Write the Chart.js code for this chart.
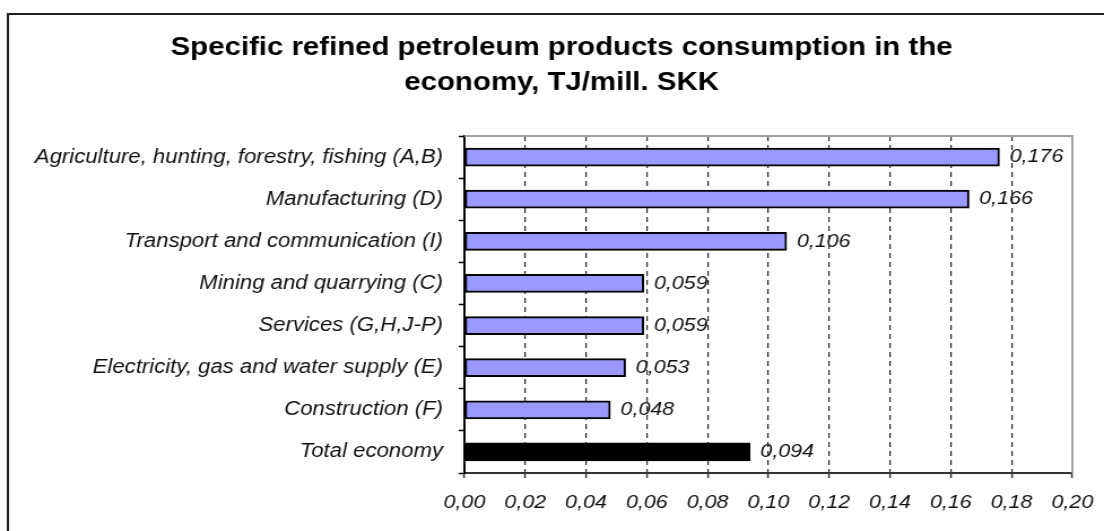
<!DOCTYPE html>
<html>
<head>
<meta charset="utf-8">
<title>Specific refined petroleum products consumption</title>
<script src="https://cdn.jsdelivr.net/npm/chart.js@4/dist/chart.umd.min.js"></script>
<style>
  html, body { margin: 0; padding: 0; background: #fff; overflow: hidden; }
  /* the chart is drawn a little narrow and widened, like the old spreadsheet export */
  #wrap { width: 977px; height: 531px; transform: scaleX(1.13); transform-origin: 0 0; }
</style>
</head>
<body>
<div id="wrap"><canvas id="chart" width="977" height="531"></canvas></div>
<script>
const sectors = [
    "Agriculture, hunting, forestry, fishing (A,B)",
    "Manufacturing (D)",
    "Transport and communication (I)",
    "Mining and quarrying (C)",
    "Services (G,H,J-P)",
    "Electricity, gas and water supply (E)",
    "Construction (F)",
    "Total economy",
];
const consumption = [0.176, 0.166, 0.106, 0.059, 0.059, 0.053, 0.048, 0.094];
const barColors = ["#9999ff", "#9999ff", "#9999ff", "#9999ff", "#9999ff", "#9999ff", "#9999ff", "#000000"];

const axisMin = 0;
const axisMax = 0.2;
const axisStep = 0.02;

const titleLines = [
    "Specific refined petroleum products consumption in the",
    "economy, TJ/mill. SKK",
];

const FONT = '"Liberation Sans", Arial, sans-serif';
const comma = (v, digits) => v.toFixed(digits).replace(".", ",");

Chart.defaults.font.family = FONT;
Chart.defaults.color = "#111";

// two-line bold heading, centred over the whole box rather than the plot
const heading = {
    id: "heading",
    afterDraw(chart) {
        const ctx = chart.ctx;
        ctx.save();
        ctx.font = "bold 26px " + FONT;
        ctx.fillStyle = "#000";
        ctx.textAlign = "center";
        ctx.textBaseline = "middle";
        titleLines.forEach((line, i) => ctx.fillText(line, 497, 48 + i * 35));
        ctx.restore();
    },
};

// outer box round the whole chart plus the light frame on top/right of the plot
const frame = {
    id: "frame",
    beforeDraw(chart) {
        const ctx = chart.ctx;
        ctx.save();
        ctx.strokeStyle = "#222";
        ctx.lineWidth = 2;
        ctx.strokeRect(7, 14, 1000, 600);
        ctx.restore();
    },
    beforeDatasetsDraw(chart) {
        const { ctx, chartArea: a } = chart;
        ctx.save();
        ctx.strokeStyle = "#a0a0a0";
        ctx.lineWidth = 2;
        ctx.beginPath();
        ctx.moveTo(a.left, a.top);
        ctx.lineTo(a.right, a.top);
        ctx.lineTo(a.right, a.bottom);
        ctx.stroke();
        ctx.restore();
    },
};

// value printed just right of each bar
const valueLabels = {
    id: "valueLabels",
    afterDatasetsDraw(chart) {
        const ctx = chart.ctx;
        const meta = chart.getDatasetMeta(0);
        ctx.save();
        ctx.font = "italic 19px " + FONT;
        ctx.fillStyle = "#111";
        ctx.textAlign = "left";
        ctx.textBaseline = "middle";
        meta.data.forEach((bar, i) => {
            ctx.fillText(comma(consumption[i], 3), bar.x + 9, bar.y);
        });
        ctx.restore();
    },
};

const chart = new Chart(document.getElementById("chart"), {
    type: "bar",
    data: {
        labels: sectors,
        datasets: [
            {
                data: consumption,
                backgroundColor: barColors,
                borderColor: "#000",
                borderWidth: 2,
                borderSkipped: false,
                barThickness: 18,
            },
        ],
    },
    options: {
        indexAxis: "y",
        responsive: false,
        animation: false,
        layout: { padding: { left: 12, right: 28, top: 136, bottom: 0 } },
        plugins: {
            legend: { display: false },
            tooltip: { enabled: false },
            title: { display: false },
        },
        scales: {
            x: {
                min: axisMin,
                max: axisMax,
                ticks: {
                    stepSize: axisStep,
                    padding: 13,
                    color: "#111",
                    font: { size: 19, style: "italic" },
                    callback: (v) => comma(v, 2),
                },
                grid: {
                    color: "#222",
                    lineWidth: 1.2,
                    drawTicks: true,
                    tickLength: 5,
                    tickColor: "#333",
                    tickWidth: 1.5,
                    tickBorderDash: [],
                },
                border: { color: "#333", width: 2, dash: [5, 4] },
                afterFit(scale) {
                    scale.height = 58;
                    scale.paddingLeft = 0;
                    scale.paddingRight = 0;
                },
            },
            y: {
                ticks: {
                    padding: 14,
                    color: "#111",
                    font: { size: 19.6, style: "italic" },
                    autoSkip: false,
                },
                grid: {
                    drawOnChartArea: false,
                    drawTicks: true,
                    tickLength: 5,
                    tickColor: "#000",
                    tickWidth: 1.5,
                },
                border: { color: "#000", width: 2 },
                afterFit(scale) {
                    scale.width = 411 - 12;
                    scale.paddingTop = 0;
                    scale.paddingBottom = 0;
                },
            },
        },
    },
    plugins: [frame, valueLabels, heading],
});
</script>
</body>
</html>
